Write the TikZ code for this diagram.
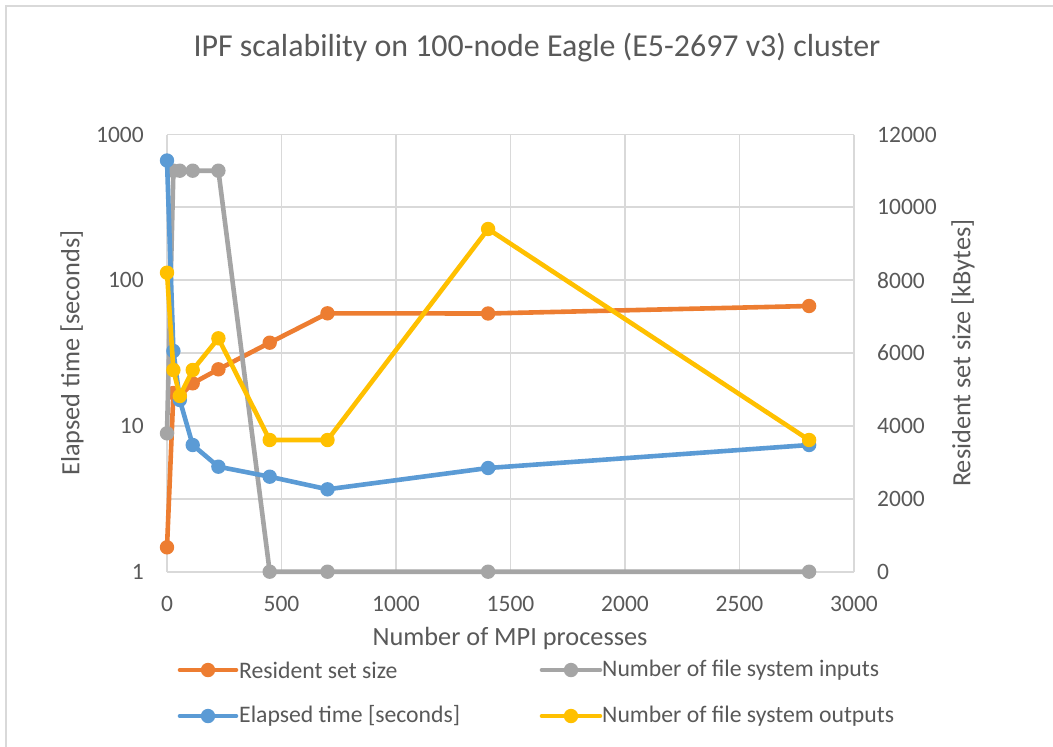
\documentclass[tikz,border=0pt]{standalone}
\usepackage{fontspec}
\setmainfont{Carlito}
\usetikzlibrary{calc}
\definecolor{txt}{HTML}{595959}
\definecolor{gridc}{HTML}{D9D9D9}
\definecolor{sorange}{HTML}{ED7D31}
\definecolor{sgray}{HTML}{A5A5A5}
\definecolor{sblue}{HTML}{5B9BD5}
\definecolor{syellow}{HTML}{FFC000}
\tikzset{
  tick/.style={text=txt,inner sep=0pt,font=\fontsize{23.5}{28}\selectfont},
  axtitle/.style={text=txt,inner sep=0pt,font=\fontsize{26.3}{30}\selectfont},
  legtext/.style={text=txt,inner sep=0pt,anchor=west,font=\fontsize{23.7}{28}\selectfont},
  serline/.style={line width=4.6pt,line join=round,line cap=round},
  gridline/.style={gridc,line width=1.8pt},
}
\newcommand\markers[2]{\foreach \i in {1,...,9}{\fill[#2] (#1\i) circle (7.2);}}
\begin{document}
\begin{tikzpicture}[x=1pt,y=-1pt]
\useasboundingbox (0,0) rectangle (1053,747);
\fill[white] (0,0) rectangle (1053,747);
\draw[gridc,line width=2pt] (6,800) -- (6,6) -- (1100,6);
% title
\node[text=txt,inner sep=0pt,font=\fontsize{31.9}{38}\selectfont] (title) at (537,48) {IPF scalability on 100-node Eagle (E5-2697 v3) cluster};
% grid
\foreach \k in {0,...,6}{
  \draw[gridline] (167,{134.5+\k*72.87}) -- (854,{134.5+\k*72.87});
  \draw[gridline] ({167+\k*114.5},134.5) -- ({167+\k*114.5},571.7);
}
% left ticks
\node[tick,anchor=east] (l1000) at (144,134.5) {1000};
\node[tick,anchor=east] (l100) at (144,280.2) {100};
\node[tick,anchor=east] (l10) at (144,426) {10};
\node[tick,anchor=east] (l1) at (144,571.7) {1};
% right ticks
\foreach \v [count=\k from 0] in {12000,10000,8000,6000,4000,2000,0}{
  \node[tick,anchor=west] (r\k) at (877,{134.5+\k*72.87}) {\v};
}
% bottom ticks
\foreach \v [count=\k from 0] in {0,500,1000,1500,2000,2500,3000}{
  \node[tick] (b\k) at ({167+\k*114.5},604) {\v};
}
% axis titles
\node[axtitle] (xt) at (510,638) {Number of MPI processes};
\node[axtitle,rotate=90] (ylt) at (72,353) {Elapsed time [seconds]};
\node[axtitle,rotate=90] (yrt) at (963,353) {Resident set size [kBytes]};
% data coordinates
\foreach \y [count=\i] in {547.3,393,396,383.3,369.3,342.7,313.3,313.5,306}{
  \pgfmathsetmacro\xx{{167,173.4,179.8,192.7,218.4,269.7,327.5,488.1,809.1}[\i-1]}
  \coordinate (o\i) at (\xx,\y);}
\foreach \y [count=\i] in {433.3,170.7,170.7,170.7,170.7,571.7,571.7,571.7,571.7}{
  \pgfmathsetmacro\xx{{167,173.4,179.8,192.7,218.4,269.7,327.5,488.1,809.1}[\i-1]}
  \coordinate (g\i) at (\xx,\y);}
\foreach \y [count=\i] in {160.5,351,400,445,466.7,476.7,489.3,468,445}{
  \pgfmathsetmacro\xx{{167,173.4,179.8,192.7,218.4,269.7,327.5,488.1,809.1}[\i-1]}
  \coordinate (e\i) at (\xx,\y);}
\foreach \y [count=\i] in {272.7,370,396,370,338.3,440,440,229,440}{
  \pgfmathsetmacro\xx{{167,173.4,179.8,192.7,218.4,269.7,327.5,488.1,809.1}[\i-1]}
  \coordinate (w\i) at (\xx,\y);}
% series
\draw[serline,sorange] (o1)--(o2)--(o3)--(o4)--(o5)--(o6)--(o7)--(o8)--(o9);
\markers{o}{sorange}
\draw[serline,sgray] (g1)--(g2)--(g3)--(g4)--(g5)--(g6)--(g7)--(g8)--(g9);
\markers{g}{sgray}
\draw[serline,sblue] (e1)--(e2)--(e3)--(e4)--(e5)--(e6)--(e7)--(e8)--(e9);
\markers{e}{sblue}
\draw[serline,syellow] (w1)--(w2)--(w3)--(w4)--(w5)--(w6)--(w7)--(w8)--(w9);
\markers{w}{syellow}
% legend
\coordinate (la1) at (180,670); \coordinate (lb1) at (236,670);
\coordinate (la2) at (542,670); \coordinate (lb2) at (600,670);
\coordinate (la3) at (180,716); \coordinate (lb3) at (236,716);
\coordinate (la4) at (542,716); \coordinate (lb4) at (600,716);
\draw[serline,sorange] (la1) -- (lb1); \fill[sorange] ($(la1)!0.5!(lb1)$) circle (7.2);
\draw[serline,sgray] (la2) -- (lb2); \fill[sgray] ($(la2)!0.5!(lb2)$) circle (7.2);
\draw[serline,sblue] (la3) -- (lb3); \fill[sblue] ($(la3)!0.5!(lb3)$) circle (7.2);
\draw[serline,syellow] (la4) -- (lb4); \fill[syellow] ($(la4)!0.5!(lb4)$) circle (7.2);
\node[legtext] (lt1) at (239,670) {Resident set size};
\node[legtext] (lt2) at (602,670) {Number of file system inputs};
\node[legtext] (lt3) at (239,716) {Elapsed time [seconds]};
\node[legtext] (lt4) at (602,716) {Number of file system outputs};
\end{tikzpicture}
\end{document}
